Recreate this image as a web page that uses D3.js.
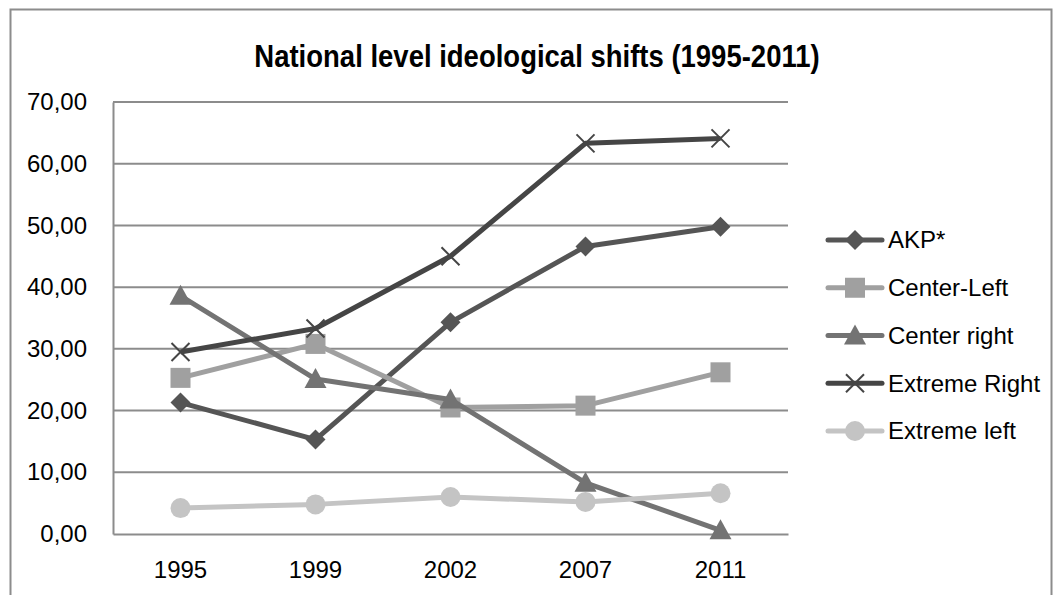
<!DOCTYPE html>
<html>
<head>
<meta charset="utf-8">
<script src="https://cdn.jsdelivr.net/npm/d3@7"></script>
<style>
  html, body { margin: 0; padding: 0; background: #ffffff; }
  svg { display: block; }
  text { font-family: "Liberation Sans", Arial, sans-serif; fill: #000; }
</style>
</head>
<body>
<svg id="chart" width="1061" height="595"></svg>
<script>
// Election years and vote shares (%) by ideological bloc
const years = ["1995", "1999", "2002", "2007", "2011"];
const akp          = [21.3, 15.3, 34.3, 46.6, 49.8];
const centerLeft   = [25.3, 30.8, 20.5, 20.8, 26.2];
const centerRight  = [38.6, 25.1, 21.8, 8.3, 0.6];
const extremeRight = [29.5, 33.3, 45.0, 63.3, 64.1];
const extremeLeft  = [4.2, 4.8, 6.0, 5.2, 6.6];
const yTicks = [0, 10, 20, 30, 40, 50, 60, 70];
const seriesNames = ["AKP*", "Center-Left", "Center right", "Extreme Right", "Extreme left"];

const series = [
  { name: seriesNames[0], values: akp,          color: "#555555", marker: "diamond" },
  { name: seriesNames[1], values: centerLeft,   color: "#a0a0a0", marker: "square" },
  { name: seriesNames[2], values: centerRight,  color: "#737373", marker: "triangle" },
  { name: seriesNames[3], values: extremeRight, color: "#454545", marker: "cross" },
  { name: seriesNames[4], values: extremeLeft,  color: "#c4c4c4", marker: "circle" }
];

const svg = d3.select("#chart");
const plot = { left: 113, right: 788, top: 102, bottom: 534 };

// outer chart frame
svg.append("rect")
  .attr("x", 10.5).attr("y", 9.5)
  .attr("width", 1041).attr("height", 600)
  .attr("fill", "none").attr("stroke", "#8c8c8c").attr("stroke-width", 2);

// title
svg.append("text")
  .attr("x", 537).attr("y", 0)
  .attr("text-anchor", "middle")
  .attr("font-weight", "bold")
  .attr("font-size", 27.5)
  .attr("transform", "translate(0,67) scale(1,1.12)")
  .text("National level ideological shifts (1995-2011)");

const x = d3.scaleBand().domain(years).range([plot.left, plot.right]);
const y = d3.scaleLinear().domain([0, 70]).range([plot.bottom, plot.top]);

// horizontal gridlines
svg.append("g")
  .selectAll("line")
  .data(yTicks.slice(1))
  .join("line")
  .attr("x1", plot.left).attr("x2", plot.right)
  .attr("y1", d => y(d)).attr("y2", d => y(d))
  .attr("stroke", "#8c8c8c").attr("stroke-width", 2);

// y axis
const yAxis = svg.append("g")
  .attr("transform", `translate(${plot.left},0)`)
  .call(d3.axisLeft(y).tickValues(yTicks).tickSize(0).tickPadding(26)
    .tickFormat(d => d3.format(".2f")(d).replace(".", ",")));
yAxis.select(".domain").attr("stroke", "#8c8c8c").attr("stroke-width", 2);
yAxis.selectAll("text").attr("font-size", 24).attr("font-family", "Liberation Sans, Arial, sans-serif").attr("fill", "#000");

// x axis
const xAxis = svg.append("g")
  .attr("transform", `translate(0,${plot.bottom})`)
  .call(d3.axisBottom(x).tickSize(0).tickPadding(27));
xAxis.select(".domain").attr("stroke", "#8c8c8c").attr("stroke-width", 2);
xAxis.selectAll("text").attr("font-size", 24).attr("font-family", "Liberation Sans, Arial, sans-serif").attr("fill", "#000");

const cx = d => x(d) + x.bandwidth() / 2;

function drawMarker(g, type, color) {
  if (type === "diamond") {
    g.append("path").attr("d", "M0,-10L10,0L0,10L-10,0Z").attr("fill", color);
  } else if (type === "square") {
    g.append("rect").attr("x", -10).attr("y", -10).attr("width", 20).attr("height", 20).attr("fill", color);
  } else if (type === "triangle") {
    g.append("path").attr("d", "M0,-11L11,9L-11,9Z").attr("fill", color);
  } else if (type === "cross") {
    g.append("path").attr("d", "M-9,-9L9,9M-9,9L9,-9").attr("stroke", color).attr("stroke-width", 2).attr("fill", "none");
  } else if (type === "circle") {
    g.append("circle").attr("r", 10).attr("fill", color);
  }
}

const line = d3.line().x((d, i) => cx(years[i])).y(d => y(d));

series.forEach(s => {
  const g = svg.append("g");
  g.append("path")
    .datum(s.values)
    .attr("d", line)
    .attr("fill", "none")
    .attr("stroke", s.color)
    .attr("stroke-width", 5)
    .attr("stroke-linejoin", "round");
  s.values.forEach((v, i) => {
    const m = g.append("g").attr("transform", `translate(${cx(years[i])},${y(v)})`);
    drawMarker(m, s.marker, s.color);
  });
});

// legend
const legendY = d3.scalePoint().domain(seriesNames).range([240, 431]);
series.forEach(s => {
  const g = svg.append("g").attr("transform", `translate(0,${legendY(s.name)})`);
  g.append("line").attr("x1", 828).attr("x2", 882).attr("y1", 0).attr("y2", 0)
    .attr("stroke", s.color).attr("stroke-width", 5).attr("stroke-linecap", "round");
  const m = g.append("g").attr("transform", "translate(855,0)");
  drawMarker(m, s.marker, s.color);
  g.append("text").attr("x", 888).attr("y", 0).attr("dy", "0.35em")
    .attr("font-size", 24).text(s.name);
});
</script>
</body>
</html>
